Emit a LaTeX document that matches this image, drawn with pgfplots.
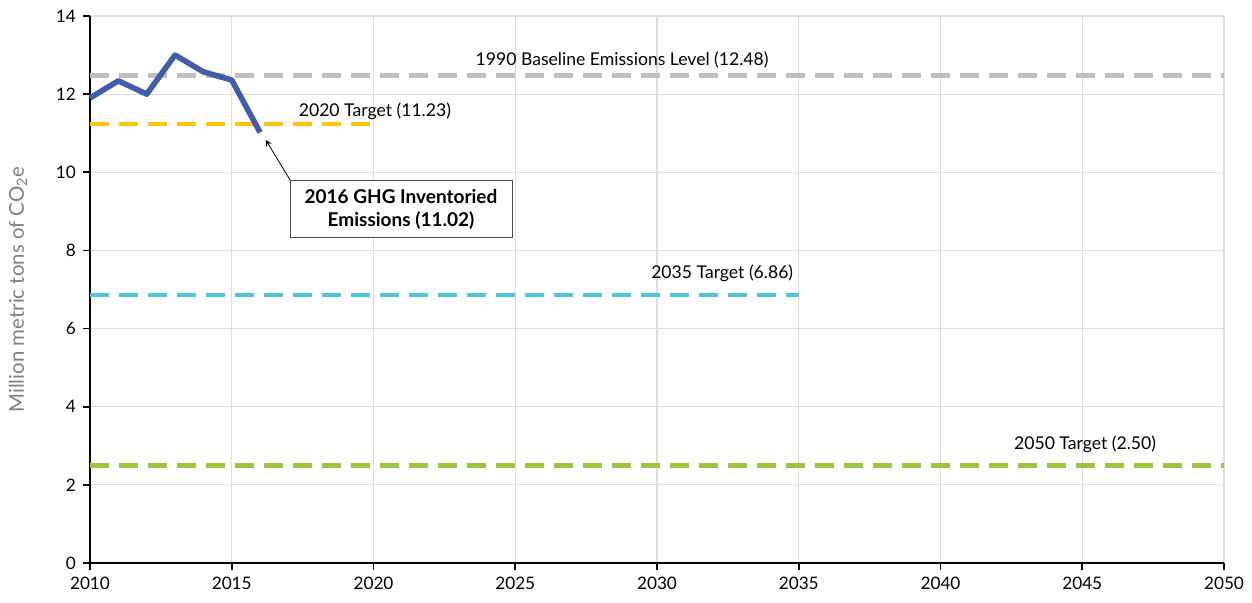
\documentclass[border=0pt]{standalone}
\usepackage{pgfplots}
\pgfplotsset{compat=1.18}
\usepackage{fontspec}
\setmainfont{Lato}
\definecolor{emblue}{HTML}{3F5DAB}
\definecolor{basegray}{HTML}{BFBFBF}
\definecolor{tyellow}{HTML}{FFC508}
\definecolor{tcyan}{HTML}{4CC6DA}
\definecolor{tgreen}{HTML}{9BC53D}
\definecolor{gridgray}{HTML}{DDDDDD}
\begin{document}
\begin{tikzpicture}
\begin{axis}[
  scale only axis, width=567pt, height=273.5pt,
  xmin=2010, xmax=2050, ymin=0, ymax=14,
  xtick={2010,2015,...,2050}, ytick={0,2,...,14},
  axis x line*=bottom, axis y line*=left,
  axis line style={black, line width=0.8pt},
  tick style={black, line width=0.8pt},
  tick align=outside, major tick length=3.5pt,
  grid=major, major grid style={gridgray, line width=0.6pt},
  xticklabel style={/pgf/number format/1000 sep={}},
  /pgf/number format/assume math mode=true,
  ticklabel style={font=\fontsize{8.6}{10}\selectfont},
  ylabel={Million metric tons of CO\textsubscript{2}e},
  ylabel style={font=\fontsize{10.2}{12}\selectfont, text=black!50, at={(-36pt,0.5)}, anchor=center},
  clip=false,
]
\addplot[basegray, line width=2.2pt, dash pattern=on 9.5pt off 5pt] coordinates {(2010,12.48) (2050,12.48)};
\addplot[tyellow, line width=2.2pt, dash pattern=on 9.5pt off 5pt] coordinates {(2010,11.23) (2020,11.23)};
\addplot[tcyan, line width=2.2pt, dash pattern=on 9.5pt off 5pt] coordinates {(2010,6.86) (2035,6.86)};
\addplot[tgreen, line width=2.2pt, dash pattern=on 9.5pt off 5pt] coordinates {(2010,2.50) (2050,2.50)};
\addplot[emblue, line width=2.8pt, line join=round] coordinates {
 (2010,11.90) (2011,12.34) (2012,12.00) (2013,13.00) (2014,12.57) (2015,12.36) (2016,11.02)};
\node[font=\fontsize{8.8}{10}\selectfont] at (axis cs:2028.77,12.87) {1990 Baseline Emissions Level (12.48)};
\node[font=\fontsize{8.8}{10}\selectfont] at (axis cs:2020.05,11.57) {2020 Target (11.23)};
\node[font=\fontsize{8.8}{10}\selectfont] at (axis cs:2032.3,7.42) {2035 Target (6.86)};
\node[font=\fontsize{8.8}{10}\selectfont] at (axis cs:2045.1,3.05) {2050 Target (2.50)};
\draw[-stealth, line width=0.4pt] (axis cs:2017.1,9.75) -- (axis cs:2016.2,10.83);
\node[draw=black!70, fill=white, line width=0.5pt, align=center, font=\bfseries\fontsize{9.5}{11.5}\selectfont, minimum width=111pt, minimum height=28.5pt, inner sep=2pt] at (axis cs:2020.97,9.06) {2016 GHG Inventoried\\Emissions (11.02)};
\end{axis}
\pgfresetboundingbox
\path (-45pt,-20pt) rectangle (581pt,281.5pt);
\end{tikzpicture}
\end{document}
